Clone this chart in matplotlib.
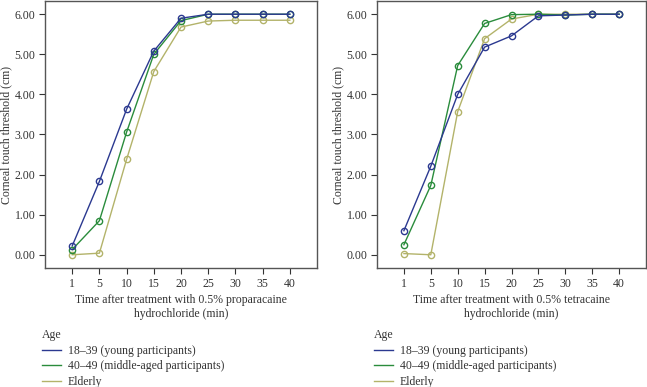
import matplotlib
matplotlib.use("Agg")
import matplotlib.pyplot as plt
from matplotlib.lines import Line2D
import numpy as np

plt.rcParams['font.family'] = ['Liberation Serif', 'DejaVu Serif']

times = ["1", "5", "10", "15", "20", "25", "30", "35", "40"]
series_names = ["18\u201339 (young participants)", "40\u201349 (middle-aged participants)", "Elderly"]
colors = ["#2b3990", "#2a8c3c", "#b3b36a"]

prop_young = [0.22, 1.83, 3.63, 5.08, 5.90, 6.00, 6.00, 6.00, 6.00]
prop_middle = [0.13, 0.85, 3.06, 5.00, 5.84, 6.00, 6.00, 6.00, 6.00]
prop_elderly = [0.00, 0.04, 2.38, 4.57, 5.68, 5.83, 5.85, 5.85, 5.85]

tetra_young = [0.60, 2.21, 4.00, 5.18, 5.46, 5.96, 5.98, 6.00, 6.00]
tetra_middle = [0.25, 1.73, 4.72, 5.77, 5.99, 6.00, 5.98, 6.00, 6.00]
tetra_elderly = [0.03, 0.00, 3.57, 5.39, 5.88, 6.00, 6.00, 6.00, 6.00]

yticks = [0, 1, 2, 3, 4, 5, 6]

W, H = 647, 387
fig = plt.figure(figsize=(W/100, H/100), dpi=100)

panels = [
    (45, 317, [prop_young, prop_middle, prop_elderly],
     "Time after treatment with 0.5% proparacaine\nhydrochloride (min)"),
    (377, 646, [tetra_young, tetra_middle, tetra_elderly],
     "Time after treatment with 0.5% tetracaine\nhydrochloride (min)"),
]
top, bottom = 1, 268
fs = 8.5
for (x0, x1, data, xlabel) in panels:
    ax = fig.add_axes([x0/W, 1-bottom/H, (x1-x0)/W, (bottom-top)/H])
    xs = np.arange(len(times))
    for i in [2, 1, 0]:
        ax.plot(xs, data[i], color=colors[i], lw=1.0, marker='o', ms=4.5,
                mfc='none', mew=1.0, label=series_names[i])
    ax.set_xlim(-1, 9)
    ax.set_ylim(-0.33, 6.33)
    ax.set_xticks(xs)
    ax.set_xticklabels(times)
    ax.set_yticks(yticks)
    ax.set_yticklabels([f"{v:.2f}" for v in yticks])
    ax.tick_params(direction='out', length=4, width=0.8, labelsize=fs, colors='#333333', pad=3)
    for s in ax.spines.values():
        s.set_color('#555555')
        s.set_linewidth(1.0)
    ax.set_ylabel("Corneal touch threshold (cm)", fontsize=fs, color='#333333')
    ax.yaxis.set_label_coords(-33/(x1 - x0), 0.5)
    ax.set_xlabel(xlabel, fontsize=fs, color='#333333', labelpad=3, linespacing=1.2)
    hl = [Line2D([0], [0], color=colors[i], lw=1.0) for i in range(3)]
    leg = ax.legend(hl, series_names, loc='upper left',
                    bbox_to_anchor=(-3/(x1-x0), -(329-bottom)/(bottom-top)),
                    frameon=False, title="Age", alignment='left', fontsize=fs,
                    title_fontsize=fs, handlelength=1.6, handletextpad=0.6,
                    labelspacing=0.28, borderpad=0, borderaxespad=0)
    leg._legend_box.sep = 3
    for t in leg.get_texts():
        t.set_color('#333333')
    leg.get_title().set_color('#333333')

fig.savefig("out.png", dpi=100)
